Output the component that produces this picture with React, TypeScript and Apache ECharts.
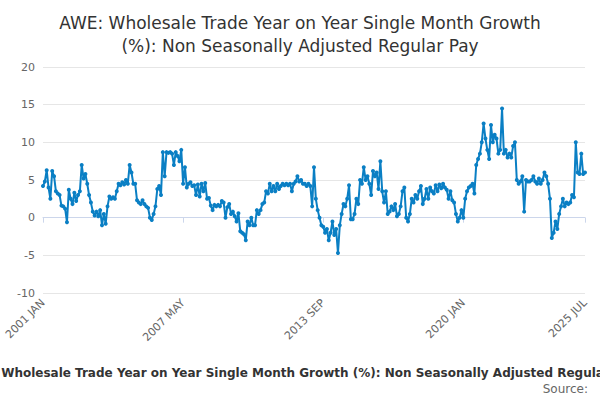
import * as echarts from "echarts";
import { useEffect, useRef } from "react";

const y2001 = [4.2, 4.8, 6.3, 4, 2.5, 6.2, 5.5, 3.5, 3.2, 3, 1.6, 1.5];
const y2002 = [1.2, -0.6, 3.7, 2.5, 1.8, 3.3, 2.2, 3, 3.5, 7, 5.2, 5.8];
const y2003 = [4.5, 3, 2, 0.8, 0.3, 0.8, 0.2, 1, -1, 0.5, -0.8, 1.5];
const y2004 = [2.8, 2.5, 2.7, 2.5, 3.5, 4.5, 4.3, 4.7, 4.4, 5, 4.5, 7];
const y2005 = [6, 4.5, 4.5, 2.3, 2, 1.8, 2.3, 1.8, 1.5, 1.3, 0, -0.3];
const y2006 = [0.5, 1.5, 3.8, 4.2, 3, 8.7, 5.5, 8.7, 8.6, 8.7, 8.5, 7];
const y2007 = [8.7, 8.2, 7.5, 9, 4.5, 6.7, 4, 4.5, 4.7, 4.2, 4.3, 3];
const y2008 = [4.4, 2.8, 4.5, 3.5, 4.6, 2.5, 2.6, 1.6, 1, 1.7, 1.5, 1.7];
const y2009 = [1.5, 2.2, 2, 0, 1.4, 1.8, 0.5, 0.8, 0.2, -0.5, 0.6, -1.8];
const y2010 = [-2, -2.2, -3, -0.5, -1, 0, -1, -1, 1, 0.5, 1, 1.8];
const y2011 = [2, 3.5, 3.2, 4.5, 3.5, 4.2, 3.5, 4.5, 3.8, 4.2, 4.5, 4.3];
const y2012 = [4.5, 4.3, 4.5, 3.5, 4.5, 4.8, 5.5, 4.8, 5, 4.5, 4.5, 4.2];
const y2013 = [4.5, 4.2, 1.5, 6.7, 2.5, 1, 0, -1, -1.2, -2, -1.5, -3];
const y2014 = [-2, -0.5, -2.3, -1.5, -4.7, -1, 0.5, 1.8, 1.5, 2.5, 4.3, -0.2];
const y2015 = [-0.2, 0.5, 2.5, 1.8, 5, 4.5, 6.7, 5, 5.5, 4.5, 3, 6.2];
const y2016 = [5.5, 6, 3.8, 7.5, 3.5, 2, 3.5, 0.5, 0.8, 1.5, 1, 1.8];
const y2017 = [0.2, 0.5, 1.5, 3.5, 4, 0, -0.5, 0.5, 2.5, 2, 3, 2.5];
const y2018 = [3.5, 4.2, 1.8, 2.5, 3.8, 2.5, 4, 3.5, 3.2, 4.3, 3.5, 4.4];
const y2019 = [3.9, 4.5, 4, 3.7, 2.5, 3.5, 2.3, 2, 0.5, -0.5, 0, 1];
const y2020 = [0, 2.5, 3.5, 4, 4.2, 4.5, 3.2, 7, 7.8, 8.5, 10, 12.5];
const y2021 = [10.5, 9, 7.8, 12.3, 10, 11, 10.5, 8.5, 9, 14.5, 8.5, 9];
const y2022 = [8, 8.5, 8, 9.5, 10, 5, 4.5, 4.8, 5.5, 0.8, 5, 4.8];
const y2023 = [4.8, 5, 5.5, 4.8, 4.5, 5.2, 4.5, 5, 6, 5.5, 4.5, 2.5];
const y2024 = [-2.7, -2, -0.5, -1.5, 0.5, 1.5, 2.5, 1.5, 2, 1.8, 2, 3];
const y2025 = [2.7, 10, 6, 5.8, 8.5, 5.8, 6];

const values = [
  ...y2001, ...y2002, ...y2003, ...y2004, ...y2005, ...y2006, ...y2007,
  ...y2008, ...y2009, ...y2010, ...y2011, ...y2012, ...y2013, ...y2014,
  ...y2015, ...y2016, ...y2017, ...y2018, ...y2019, ...y2020, ...y2021,
  ...y2022, ...y2023, ...y2024, ...y2025,
];

const MONTHS = ["JAN", "FEB", "MAR", "APR", "MAY", "JUN", "JUL", "AUG", "SEP", "OCT", "NOV", "DEC"];
const categories = values.map((_, i) => `${2001 + Math.floor(i / 12)} ${MONTHS[i % 12]}`);
const shownLabels = ["2001 JAN", "2007 MAY", "2013 SEP", "2020 JAN", "2025 JUL"];

const font = "'DejaVu Sans', Verdana, sans-serif";

export default function App() {
  const ref = useRef<HTMLDivElement>(null);

  useEffect(() => {
    if (!ref.current) return;
    const chart = echarts.init(ref.current, undefined, { renderer: "svg" });
    chart.setOption({
      animation: false,
      textStyle: { fontFamily: font },
      title: [
        {
          text: "AWE: Wholesale Trade Year on Year Single Month Growth\n(%): Non Seasonally Adjusted Regular Pay",
          left: "center",
          top: 6,
          textStyle: { fontSize: 17, fontWeight: "normal", color: "#333", lineHeight: 23 },
        },
      ],
      graphic: [
        {
          type: "text",
          x: 300,
          y: 367,
          style: {
            text: "AWE: Wholesale Trade Year on Year Single Month Growth (%): Non Seasonally Adjusted Regular Pay",
            fill: "#333",
            font: `bold 12px ${font}`,
            textAlign: "center",
          },
        },
        {
          type: "text",
          x: 588,
          y: 383,
          style: { text: "Source:", fill: "#666", font: `12px ${font}`, textAlign: "right" },
        },
      ],
      grid: { left: 43, right: 15, top: 67, bottom: 107 },
      xAxis: {
        type: "category",
        data: categories,
        boundaryGap: false,
        axisLine: { lineStyle: { color: "#ccd6eb" } },
        axisTick: {
          lineStyle: { color: "#ccd6eb" },
          interval: (_i: number, v: string) => shownLabels.includes(v),
        },
        axisLabel: {
          color: "#666",
          fontSize: 11,
          rotate: 45,
          interval: (_i: number, v: string) => shownLabels.includes(v),
        },
      },
      yAxis: {
        type: "value",
        min: -10,
        max: 20,
        interval: 5,
        axisLabel: { color: "#666", fontSize: 11 },
        splitLine: { lineStyle: { color: "#e6e6e6" } },
      },
      series: [
        {
          type: "line",
          data: values,
          symbol: "circle",
          symbolSize: 4,
          showAllSymbol: true,
          itemStyle: { color: "#0a7fc4" },
          lineStyle: { color: "#0a7fc4", width: 2 },
        },
      ],
    });
    return () => chart.dispose();
  }, []);

  return (
    <div
      ref={ref}
      style={{ position: "absolute", left: 0, top: 0, width: 600, height: 400 }}
    />
  );
}
